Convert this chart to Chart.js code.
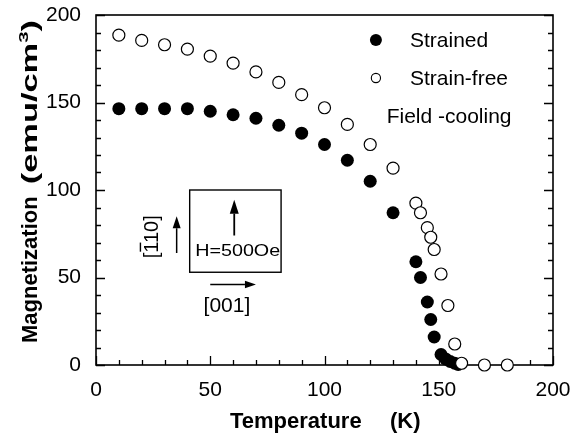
<!DOCTYPE html>
<html><head><meta charset="utf-8">
<script src="https://cdn.jsdelivr.net/npm/chart.js@4.4.0/dist/chart.umd.min.js"></script>
<style>html,body{margin:0;padding:0;background:#fff}</style>
</head><body>
<canvas id="c" width="574" height="434"></canvas>
<script>
// ---- data ----
const tempStrained = [10,20,30,40,50,60,70,80,90,100,110,120,130,140,142,145,146.5,148,151,153,155,157,158.5];
const magStrained  = [146.5,146.5,146.5,146.5,145,143,141,137,132.5,126,117,105,87,59,50,36,26,16,6,3.5,2,1,0.3];
const tempFree = [10,20,30,40,50,60,70,80,90,100,110,120,130,140,142,145,146.5,148,151,154,157,160,170,180];
const magFree  = [188.5,185.5,183,180.5,176.5,172.5,167.5,161.5,154.5,147,137.5,126,112.5,92.5,87,78.5,73,66,52,34,12,1,0,0];
const xTickValues = [0,50,100,150,200];
const yTickValues = [0,50,100,150,200];
const seriesNames = ['Strained','Strain-free'];
const legendNote = 'Field -cooling';
const xTitleParts = ['Temperature','(K)'];
const yTitleParts = ['Magnetization','(emu/cm','3',')'];
const insetTexts = {field:'H=500Oe', vertical:'[110]', horizontal:'[001]'};

const FONT = '"Liberation Sans", Arial, Helvetica, sans-serif';

function arrow(ctx,x1,y1,x2,y2,head,hw){
  const a=Math.atan2(y2-y1,x2-x1);
  const bx=x2-head*Math.cos(a), by=y2-head*Math.sin(a);
  ctx.beginPath(); ctx.moveTo(x1,y1); ctx.lineTo(bx,by); ctx.stroke();
  ctx.beginPath(); ctx.moveTo(x2,y2);
  ctx.lineTo(bx+hw*Math.sin(a), by-hw*Math.cos(a));
  ctx.lineTo(bx-hw*Math.sin(a), by+hw*Math.cos(a));
  ctx.closePath(); ctx.fill();
}

const framePlugin = {
  id:'frame',
  beforeDatasetsDraw(chart){
    const {ctx, chartArea:{left,right,top,bottom}, scales:{x,y}} = chart;
    ctx.save();
    ctx.strokeStyle='#000'; ctx.lineWidth=1.6;
    ctx.strokeRect(left,top,right-left,bottom-top);
    ctx.lineWidth=1.3;
    ctx.beginPath();
    for(let v=x.min; v<=x.max; v+=10){
      const px=Math.round(x.getPixelForValue(v))+0.5, L=(v%50===0)?9:5;
      ctx.moveTo(px,bottom); ctx.lineTo(px,bottom-L);
    }
    for(let v=y.min; v<=y.max; v+=10){
      const py=Math.round(y.getPixelForValue(v))+0.5, L=(v%50===0)?9:5;
      ctx.moveTo(left,py); ctx.lineTo(left+L,py);
      ctx.moveTo(right,py); ctx.lineTo(right-L,py);
    }
    ctx.stroke(); ctx.restore();
  }
};

const decorPlugin = {
  id:'decor',
  afterDraw(chart){
    const {ctx, scales:{x,y}} = chart;
    const X=v=>x.getPixelForValue(v), Y=v=>y.getPixelForValue(v);
    ctx.save();
    ctx.fillStyle='#000'; ctx.strokeStyle='#000';
    // legend
    ctx.beginPath(); ctx.arc(X(122.5),Y(185.7),6,0,Math.PI*2); ctx.fill();
    ctx.beginPath(); ctx.arc(X(122.5),Y(164),4.6,0,Math.PI*2); ctx.fillStyle='#fff'; ctx.fill();
    ctx.lineWidth=1.1; ctx.stroke(); ctx.fillStyle='#000';
    ctx.font='21px '+FONT; ctx.textAlign='left'; ctx.textBaseline='alphabetic';
    ctx.fillText(seriesNames[0], X(137.4), Y(181.5));
    ctx.fillText(seriesNames[1], X(137.4), Y(160));
    ctx.fillText(legendNote, X(127.2), Y(138.3));

    // inset
    ctx.lineWidth=1.4;
    ctx.strokeRect(X(41),Y(100),X(81)-X(41),Y(53)-Y(100));
    ctx.lineWidth=1.8;
    arrow(ctx,X(60.5),Y(74),X(60.5),Y(94.5),14,4.5);
    ctx.lineWidth=1.5;
    arrow(ctx,X(35.3),Y(64),X(35.3),Y(85),12,4);
    arrow(ctx,X(50),Y(46),X(70),Y(46),11,3.8);
    // field text, fitted to width
    ctx.font='16px '+FONT; ctx.textAlign='left';
    let w=ctx.measureText(insetTexts.field).width, target=85;
    ctx.save(); ctx.translate(X(62)-target/2, Y(62.3)); ctx.scale(target/w,1);
    ctx.fillText(insetTexts.field,0,0); ctx.restore();
    // horizontal label
    ctx.font='21px '+FONT; ctx.textAlign='center';
    ctx.fillText(insetTexts.horizontal, X(57.3), Y(30.5));
    // vertical label with overbar on first "1"
    ctx.save(); ctx.translate(X(27.1), Y(61)); ctx.rotate(-Math.PI/2);
    ctx.font='20px '+FONT; ctx.textAlign='left';
    ctx.fillText(insetTexts.vertical,0,0);
    const a=ctx.measureText(insetTexts.vertical.slice(0,1)).width;
    const b=ctx.measureText(insetTexts.vertical.slice(0,2)).width;
    ctx.lineWidth=1.4; ctx.beginPath(); ctx.moveTo(a+1,-17.5); ctx.lineTo(b-1,-17.5); ctx.stroke();
    ctx.restore();

    // x title
    ctx.font='bold 22px '+FONT; ctx.textAlign='left';
    ctx.fillText(xTitleParts[0], 230, 428);
    ctx.fillText(xTitleParts[1], 390, 428);

    // y title (rotated)
    ctx.save(); ctx.translate(37, 343); ctx.rotate(-Math.PI/2);
    ctx.font='bold 22px '+FONT; ctx.textAlign='left';
    ctx.fillText(yTitleParts[0],0,0);
    const w1=ctx.measureText(yTitleParts[0]).width;
    const start=w1+12, end=343-20;
    const wA=ctx.measureText(yTitleParts[1]).width;
    ctx.font='bold 13px '+FONT; const wS=ctx.measureText(yTitleParts[2]).width;
    ctx.font='bold 22px '+FONT; const wC=ctx.measureText(yTitleParts[3]).width;
    const nat=wA+wS+wC, s=(end-start)/nat;
    ctx.translate(start,0); ctx.scale(s,1);
    ctx.fillText(yTitleParts[1],0,0);
    ctx.font='bold 13px '+FONT; ctx.fillText(yTitleParts[2],wA,-9);
    ctx.font='bold 22px '+FONT; ctx.fillText(yTitleParts[3],wA+wS,0);
    ctx.restore();
    ctx.restore();
  }
};

new Chart(document.getElementById('c'), {
  type:'scatter',
  data:{datasets:[
    {label:seriesNames[1], data:tempFree.map((t,i)=>({x:t,y:magFree[i]})),
     pointRadius:6, pointBackgroundColor:'#fff', pointBorderColor:'#000', pointBorderWidth:1.2, showLine:false, clip:false},
    {label:seriesNames[0], data:tempStrained.map((t,i)=>({x:t,y:magStrained[i]})),
     pointRadius:6.5, pointBackgroundColor:'#000', pointBorderColor:'#000', pointBorderWidth:0, showLine:false, clip:false}
  ]},
  options:{
    responsive:false, animation:false, devicePixelRatio:1,
    layout:{padding:{top:15,right:21,left:0,bottom:0}},
    plugins:{legend:{display:false}, tooltip:{enabled:false}},
    scales:{
      x:{type:'linear', min:0, max:200,
         afterBuildTicks:s=>{s.ticks=xTickValues.map(v=>({value:v}));},
         afterFit:s=>{s.height=69; s.paddingLeft=0; s.paddingRight=0;},
         ticks:{font:{family:FONT,size:21}, color:'#000', padding:13, maxRotation:0},
         grid:{display:false, drawTicks:false}, border:{display:false}},
      y:{type:'linear', min:0, max:200,
         afterBuildTicks:s=>{s.ticks=yTickValues.map(v=>({value:v}));},
         afterFit:s=>{s.width=96; s.paddingTop=0; s.paddingBottom=0;},
         ticks:{font:{family:FONT,size:21}, color:'#000', padding:15},
         grid:{display:false, drawTicks:false}, border:{display:false}}
    }
  },
  plugins:[framePlugin, decorPlugin]
});
</script>
</body></html>
